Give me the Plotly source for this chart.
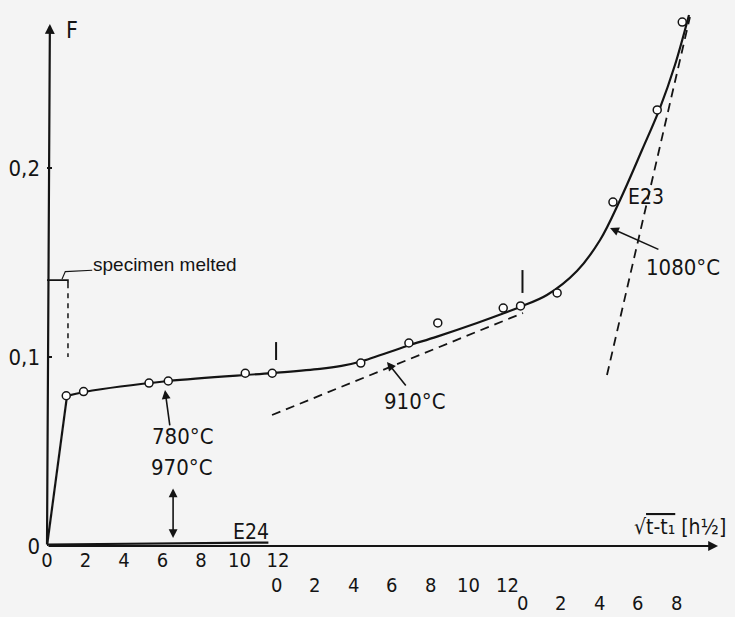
import plotly.graph_objects as go

# ---------------- data ----------------
# The abscissa sqrt(t - t1) [h^1/2] restarts at 0 for each temperature stage;
# the stages are laid side by side on one joined axis with these offsets.
SEG_OFFSET = [0.0, 11.9, 24.7]
SEG_TICKS = [[0, 2, 4, 6, 8, 10, 12], [0, 2, 4, 6, 8, 10, 12], [0, 2, 4, 6, 8]]

# measured points of specimen E23 (local abscissa of each stage, F)
x_780 = [1.0, 1.9, 5.3, 6.3, 10.3, 11.7]
F_780 = [0.0795, 0.0817, 0.0862, 0.0873, 0.0914, 0.0914]
x_910 = [4.4, 6.9, 8.4, 11.8, 12.7]
F_910 = [0.0968, 0.1074, 0.1180, 0.1259, 0.1270]
x_1080 = [1.8, 4.7, 7.0, 8.3]
F_1080 = [0.1339, 0.1820, 0.2307, 0.2772]

# drawn curve of E23 on the joined axis
rise_x = [0.0, 1.04]
rise_F = [0.0, 0.0794]
curve_x = [1.04, 1.94, 6.29, 11.69, 14.18, 15.3, 16.26, 18.70, 20.26, 22.34, 23.69,
           24.57, 25.97, 27.53, 28.73, 29.77, 30.91, 31.84, 32.62, 33.35]
curve_F = [0.0794, 0.0815, 0.0873, 0.0915, 0.0937, 0.0953, 0.0975, 0.1058, 0.1108, 0.1180, 0.1230,
           0.1265, 0.1328, 0.1455, 0.1619, 0.1831, 0.2095, 0.2317, 0.2545, 0.2810]

# dashed tangents (joined axis)
tan910_x = [11.69, 24.73]
tan910_F = [0.0693, 0.1233]
tan1080_x = [29.09, 33.40]
tan1080_F = [0.0905, 0.2799]

# specimen E24 (stays at F ~ 0)
E24_x = [0.0, 11.5]
E24_F = [0.0008, 0.0018]

# specimen melted marker
MELT_F = 0.1407
MELT_X = 1.09
MELT_DASH_F = [0.139, 0.100]

# y ticks
Y_TICKS = [0.0, 0.1, 0.2]
Y_TICKTEXT = ["0", "0,1", "0,2"]

# ---------------- styling ----------------
INK = "#141414"
BG = "#f4f4f4"
FN = "Liberation Sans Narrow, DejaVu Sans Condensed, Arial Narrow, Liberation Sans, sans-serif"
FR = "Liberation Sans, Arial, sans-serif"

X_RANGE = [0.0, 35.74]
Y_RANGE = [0.0, 0.28889]

fig = go.Figure()

def seg(xs, k):
    return [SEG_OFFSET[k] + v for v in xs]

# E24
fig.add_trace(go.Scatter(x=E24_x, y=E24_F, mode="lines",
                         line=dict(color=INK, width=2.2), hoverinfo="skip"))
# tangents
for tx, tF in [(tan910_x, tan910_F), (tan1080_x, tan1080_F)]:
    fig.add_trace(go.Scatter(x=tx, y=tF, mode="lines",
                             line=dict(color=INK, width=1.8, dash="9px,6px"), hoverinfo="skip"))
# curve
fig.add_trace(go.Scatter(x=rise_x, y=rise_F, mode="lines",
                         line=dict(color=INK, width=2.2), hoverinfo="skip"))
fig.add_trace(go.Scatter(x=curve_x, y=curve_F, mode="lines",
                         line=dict(color=INK, width=2.2, shape="spline", smoothing=1.0),
                         hoverinfo="skip"))
# measured points
for xs, Fs, k in [(x_780, F_780, 0), (x_910, F_910, 1), (x_1080, F_1080, 2)]:
    fig.add_trace(go.Scatter(x=seg(xs, k), y=Fs, mode="markers",
                             marker=dict(symbol="circle", size=8, color="white",
                                         line=dict(color=INK, width=1.5)),
                             hoverinfo="skip"))
# stage boundary marks
for k, (f0, f1) in zip([1, 2], [(0.0984, 0.1079), (0.1339, 0.1460)]):
    fig.add_trace(go.Scatter(x=[SEG_OFFSET[k], SEG_OFFSET[k]], y=[f0, f1], mode="lines",
                             line=dict(color=INK, width=2), hoverinfo="skip"))
# specimen melted bracket and dashed drop line
fig.add_trace(go.Scatter(x=[0, MELT_X, MELT_X], y=[MELT_F, MELT_F, MELT_F - 0.0018],
                         mode="lines", line=dict(color=INK, width=1.6), hoverinfo="skip"))
fig.add_trace(go.Scatter(x=[0.78, 0.95, 2.35], y=[MELT_F + 0.0005, MELT_F + 0.0045, MELT_F + 0.0052],
                         mode="lines", line=dict(color=INK, width=1.2), hoverinfo="skip"))
fig.add_trace(go.Scatter(x=[MELT_X, MELT_X], y=MELT_DASH_F, mode="lines",
                         line=dict(color=INK, width=1.5, dash="5px,5px"), hoverinfo="skip"))

ann = []
def text(x, y, s, size=22, font=FN, xanchor="center", yanchor="middle", yref="y"):
    ann.append(dict(x=x, y=y, xref="x", yref=yref, text=s, showarrow=False,
                    font=dict(family=font, size=size, color=INK),
                    xanchor=xanchor, yanchor=yanchor))

def arrow(x, y, ax, ay, width=1.6, head=2, size=1.1, side="end"):
    ann.append(dict(x=x, y=y, ax=ax, ay=ay, xref="x", yref="y", axref="x", ayref="y",
                    text="", showarrow=True, arrowhead=head, startarrowhead=head,
                    arrowsize=size, startarrowsize=size, arrowside=side,
                    arrowwidth=width, arrowcolor=INK))

# axes as arrows
arrow(34.86, 0.0, 0.0, 0.0, width=2.2, head=2, size=0.9)
arrow(0.15, 0.2762, 0.0, 0.0, width=2.2, head=2, size=0.9)

text(1.3, 0.273, "F", size=23)
text(32.9, 0.0101, "√<span style='text-decoration:overline'>t-t₁</span> [h½]", size=21)

# lower tick rows for stages 2 and 3 (below the axis -> placed in paper units)
for k, yv in [(1, -0.0205), (2, -0.0303)]:
    for v in SEG_TICKS[k]:
        text(SEG_OFFSET[k] + v, yv / Y_RANGE[1], str(v), size=20, yref="paper")

# labels
text(2.3, 0.1492, "specimen melted", size=19, font=FR, xanchor="left")
text(7.06, 0.0582, "780°C", size=22)
arrow(6.13, 0.0825, 6.39, 0.0630)
text(7.0, 0.0413, "970°C", size=22)
arrow(6.55, 0.0042, 6.55, 0.0312, side="end+start")
text(10.6, 0.0072, "E24", size=21)
text(19.12, 0.0767, "910°C", size=22)
arrow(17.66, 0.0974, 18.70, 0.0841)
text(31.12, 0.1847, "E23", size=21)
text(33.04, 0.1476, "1080°C", size=22)
arrow(29.25, 0.1683, 31.84, 0.1566)

fig.update_layout(
    width=735, height=617,
    margin=dict(l=47, r=0, t=0, b=71),
    paper_bgcolor=BG, plot_bgcolor=BG,
    showlegend=False,
    annotations=ann,
    xaxis=dict(range=X_RANGE, showgrid=False, zeroline=False, showline=False,
               tickvals=SEG_TICKS[0], ticktext=[str(v) for v in SEG_TICKS[0]],
               ticks="", ticklabelstandoff=0,
               tickfont=dict(family=FN, size=20, color=INK), fixedrange=True),
    yaxis=dict(range=Y_RANGE, showgrid=False, zeroline=False, showline=False,
               tickvals=Y_TICKS, ticktext=Y_TICKTEXT, ticks="inside", ticklen=5,
               tickwidth=1.5, tickcolor=INK, ticklabelstandoff=6,
               tickfont=dict(family=FN, size=22, color=INK), fixedrange=True),
)

fig.write_html("out.html")
